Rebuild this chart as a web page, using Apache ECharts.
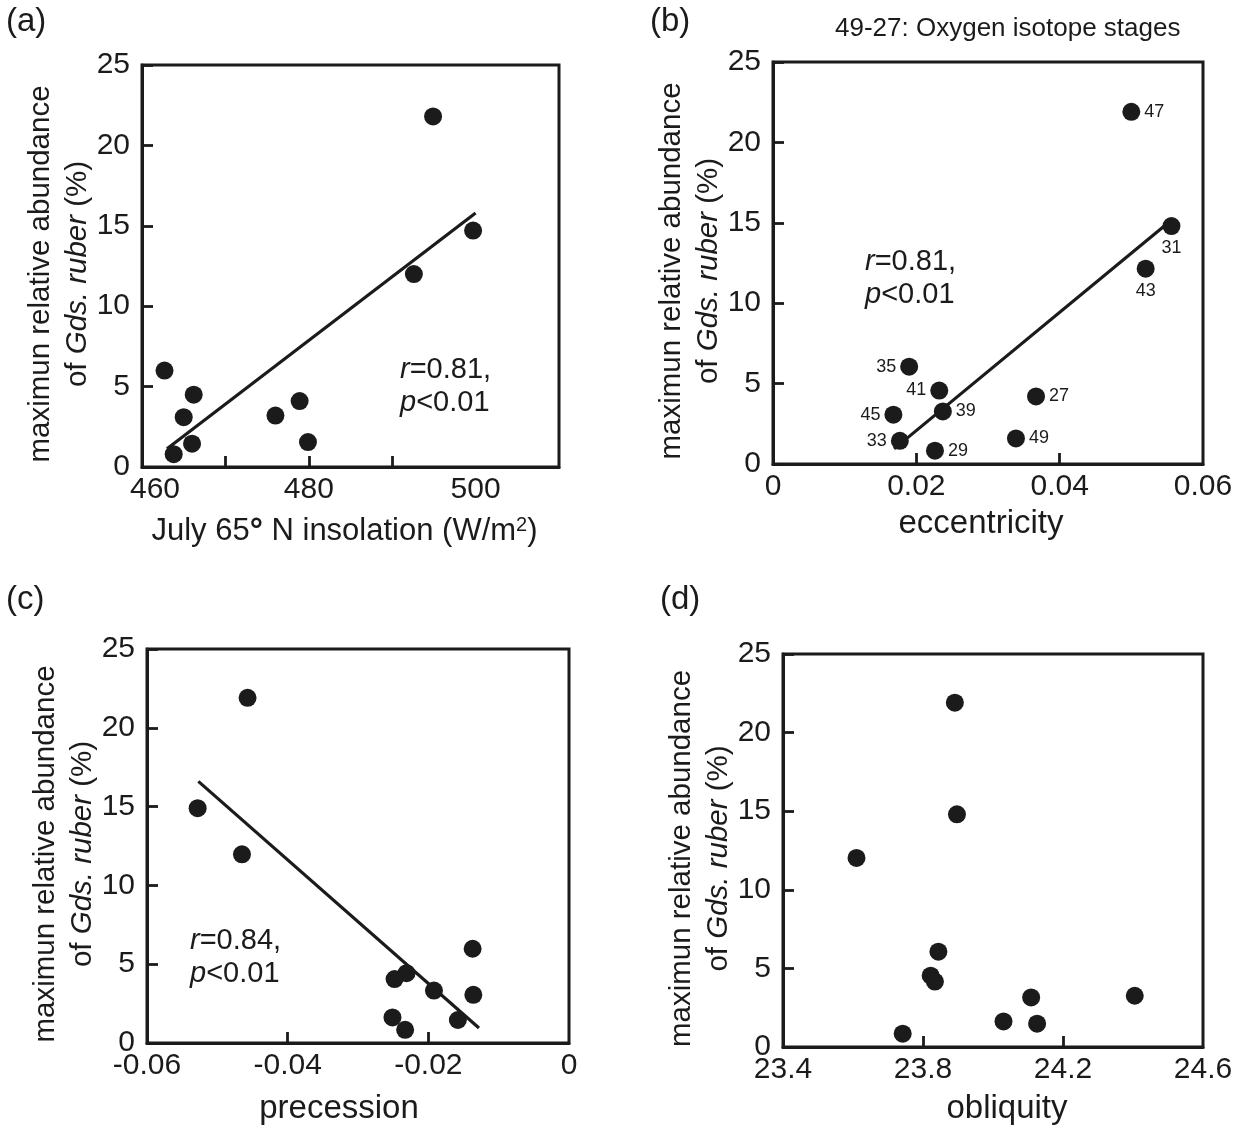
<!DOCTYPE html>
<html><head><meta charset="utf-8">
<script src="https://cdn.jsdelivr.net/npm/echarts@6/dist/echarts.min.js"></script>
<style>html,body{margin:0;padding:0;background:#fff}#c{width:1247px;height:1132px}</style>
</head><body><div id="c"></div>
<script>
// ---- data ----
const yTicks = [0, 5, 10, 15, 20, 25];

const insolation  = [462.7, 463.8, 465.0, 466.2, 466.0, 476.0, 478.9, 479.9, 492.6, 494.9, 499.7];
const abundanceA  = [6.0, 0.8, 3.1, 4.5, 1.45, 3.2, 4.1, 1.55, 12.0, 21.8, 14.7];
const fitAx = [463.0, 500.0];
const fitAy = [1.14, 15.8];
const xTicksA = [460, 480, 500];

const stages       = ['47', '31', '43', '35', '41', '27', '45', '39', '33', '49', '29'];
const eccentricity = [0.0500, 0.0556, 0.0520, 0.0190, 0.0232, 0.0367, 0.0168, 0.0237, 0.0177, 0.0339, 0.0226];
const abundanceB   = [21.9, 14.8, 12.15, 6.05, 4.57, 4.2, 3.07, 3.27, 1.44, 1.59, 0.83];
const fitBx = [0.0169, 0.0557];
const fitBy = [0.94, 15.2];
const xTicksB = [0, 0.02, 0.04, 0.06];

const precession = [-0.0457, -0.0528, -0.0465, -0.0137, -0.0231, -0.0248, -0.0192, -0.0136, -0.0251, -0.0158, -0.0233];
const abundanceC = [21.9, 14.9, 11.97, 5.98, 4.43, 4.06, 3.33, 3.06, 1.62, 1.46, 0.84];
const fitCx = [-0.0527, -0.0128];
const fitCy = [16.6, 0.95];
const xTicksC = [-0.06, -0.04, -0.02, 0];

const obliquity  = [23.891, 23.897, 23.61, 23.844, 23.822, 23.834, 24.109, 24.405, 24.03, 24.126, 23.742];
const abundanceD = [21.9, 14.8, 12.03, 6.06, 4.54, 4.16, 3.15, 3.26, 1.63, 1.48, 0.85];
const xTicksD = [23.4, 23.8, 24.2, 24.6];

// ---- styling / layout ----
const INK = '#1b1b1b';
const FONT = '"Liberation Sans", Arial, Helvetica, sans-serif';
const labelPos = {'47':'right','31':'bottom','43':'bottom','35':'left','41':'left','27':'right','45':'left','39':'right','33':'left','49':'right','29':'right'};

const grids = [
  {left: 142, top: 65,  width: 417, height: 402},
  {left: 773, top: 62,  width: 430, height: 402},
  {left: 147, top: 649, width: 422, height: 394},
  {left: 783, top: 654, width: 420, height: 393}
];

function zip(xs, ys) { return xs.map((x, i) => [x, ys[i]]); }
function fmt(v) { return String(Math.round(v * 1000) / 1000); }
function axisLine() { return {show: true, onZero: false, lineStyle: {color: INK, width: 3}}; }
function axisTick(extra) { return Object.assign({show: true, inside: true, length: 11, lineStyle: {color: INK, width: 2.8}}, extra || {}); }

function xAxis(i, min, max, labels, ticks, name, gap, pad, fs, nameRich, labelExtra) {
  return {
    type: 'value', gridIndex: i, min: min, max: max,
    splitLine: {show: false},
    axisLine: axisLine(),
    axisTick: axisTick({customValues: ticks}),
    axisLabel: Object.assign({customValues: labels, color: INK, fontSize: 30, fontFamily: FONT, margin: 8,
                formatter: fmt}, labelExtra || {}),
    name: name, nameLocation: 'middle', nameGap: gap,
    nameTextStyle: {color: INK, fontSize: fs, fontFamily: FONT, padding: pad, rich: nameRich || {}}
  };
}
const yName = '{n|maximun relative abundance}\n{n|of }{it|Gds. ruber}{n| (%)}';
function yAxis(i) {
  return {
    type: 'value', gridIndex: i, min: yTicks[0], max: yTicks[yTicks.length - 1], interval: 5,
    splitLine: {show: false},
    axisLine: axisLine(),
    axisTick: axisTick(),
    axisLabel: {color: INK, fontSize: 30, fontFamily: FONT, margin: 12},
    name: yName, nameLocation: 'middle', nameGap: 44,
    nameTextStyle: {padding: [0, 16, 0, 0], rich: {
      n: {fontSize: 29.5, fontFamily: FONT, color: INK, lineHeight: 37},
      it: {fontSize: 29.5, fontFamily: FONT, color: INK, fontStyle: 'italic', lineHeight: 37}
    }}
  };
}

function scatter(i, xs, ys, extra) {
  return Object.assign({
    type: 'scatter', xAxisIndex: i, yAxisIndex: i, symbol: 'circle', symbolSize: 18,
    itemStyle: {color: INK, opacity: 1}, data: zip(xs, ys), silent: true, z: 3
  }, extra || {});
}
function fit(i, xs, ys) {
  return {type: 'line', xAxisIndex: i, yAxisIndex: i, data: zip(xs, ys), symbol: 'none',
          lineStyle: {color: INK, width: 3.2}, silent: true, z: 2};
}

function stat(x, y, r) {
  return {type: 'text', left: x, top: y, style: {text: '{i|r}{n|=' + r + ',}\n{i|p}{n|<0.01}', fill: INK, rich: {
    i: {fontStyle: 'italic', fontSize: 29, fontFamily: FONT, fill: INK, lineHeight: 33},
    n: {fontSize: 29, fontFamily: FONT, fill: INK, lineHeight: 33}
  }}};
}
function panelLabel(x, y, t) {
  return {type: 'text', left: x, top: y, style: {text: t, font: '33px ' + FONT, fill: INK}};
}

const chart = echarts.init(document.getElementById('c'), null, {renderer: 'canvas'});
chart.setOption({
  backgroundColor: '#fff',
  animation: false,
  grid: grids.map(g => Object.assign({show: true, borderColor: INK, borderWidth: 3, backgroundColor: 'transparent', containLabel: false}, g)),
  xAxis: [
    xAxis(0, 460, 510, xTicksA, [470, 480, 490], 'July 65{deg|°} N insolation (W/m{sup|2})', 48, [0, 12, 0, 0], 31, {
      deg: {fontSize: 33, fontWeight: 'bold', fontFamily: FONT, color: INK, verticalAlign: 'top'},
      sup: {fontSize: 20, fontFamily: FONT, color: INK, verticalAlign: 'top'}
    }, {formatter: v => v === 460 ? '{s|460}' : String(v),
        rich: {s: {fontSize: 30, fontFamily: FONT, color: INK, padding: [0, 0, 0, 26]}}}),
    xAxis(1, 0, 0.06, xTicksB, [0.02, 0.04], 'eccentricity', 43, [0, 14, 0, 0], 33),
    xAxis(2, -0.06, 0, xTicksC, [-0.04, -0.02], 'precession', 49, [0, 38, 0, 0], 33),
    xAxis(3, 23.4, 24.6, xTicksD, [23.8, 24.2], 'obliquity', 45, [0, 0, 0, 28], 33)
  ],
  yAxis: [yAxis(0), yAxis(1), yAxis(2), yAxis(3)],
  series: [
    fit(0, fitAx, fitAy),
    scatter(0, insolation, abundanceA),
    fit(1, fitBx, fitBy),
    scatter(1, eccentricity, abundanceB, {
      data: eccentricity.map((x, k) => ({value: [x, abundanceB[k]], name: stages[k],
        label: {show: true, position: labelPos[stages[k]], distance: 4, formatter: '{b}',
                color: INK, fontSize: 18, fontFamily: FONT}}))
    }),
    fit(2, fitCx, fitCy),
    scatter(2, precession, abundanceC),
    scatter(3, obliquity, abundanceD)
  ],
  graphic: [
    panelLabel(6, 5, '(a)'),
    panelLabel(650, 5, '(b)'),
    panelLabel(6, 583, '(c)'),
    panelLabel(660, 583, '(d)'),
    {type: 'text', left: 835, top: 16, style: {text: '49-27: Oxygen isotope stages', font: '26px ' + FONT, fill: INK}},
    stat(400, 355, '0.81'),
    stat(865, 247, '0.81'),
    stat(190, 926, '0.84')
  ]
});
</script></body></html>
